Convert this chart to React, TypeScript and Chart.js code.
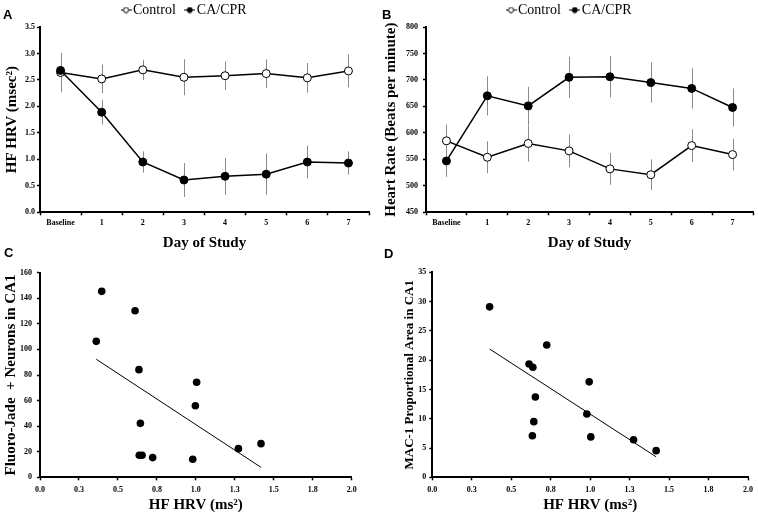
import React, { useEffect, useRef } from 'react';
import { Chart, registerables } from 'chart.js';

Chart.register(...registerables);

// ---------- data ----------
const days = ['Baseline', '1', '2', '3', '4', '5', '6', '7'];

const hrvControl = [2.64, 2.52, 2.69, 2.55, 2.58, 2.62, 2.54, 2.67];
const hrvControlErr = [0.37, 0.27, 0.19, 0.34, 0.27, 0.27, 0.28, 0.31];
const hrvCA = [2.68, 1.89, 0.95, 0.61, 0.68, 0.72, 0.95, 0.93];
const hrvCAErr = [0.16, 0.23, 0.2, 0.32, 0.35, 0.39, 0.31, 0.22];

const hrControl = [585, 554, 580, 566, 532, 521, 576, 559];
const hrControlErr = [31, 30, 34, 31, 30, 29, 31, 30];
const hrCA = [547, 670, 651, 705, 706, 695, 684, 648];
const hrCAErr = [30, 37, 36, 39, 39, 38, 38, 36];

const yTicksA = ['0.0', '0.5', '1.0', '1.5', '2.0', '2.5', '3.0', '3.5'];
const yTicksB = ['450', '500', '550', '600', '650', '700', '750', '800'];
const yTicksC = ['0', '20', '40', '60', '80', '100', '120', '140', '160'];
const yTicksD = ['0', '5', '10', '15', '20', '25', '30', '35'];
const xTicksScatter = ['0.0', '0.3', '0.5', '0.8', '1.0', '1.3', '1.5', '1.8', '2.0'];

const fjX = [0.396, 0.361, 0.61, 0.635, 0.644, 0.637, 0.655, 0.723, 1.005, 0.997, 0.98, 1.273, 1.418];
const fjY = [145.4, 106.3, 130.3, 84.2, 42.2, 17.2, 17.2, 15.4, 74.3, 56.0, 14.1, 22.4, 26.3];
const fjTrendX = [0.361, 1.418];
const fjTrendY = [92.3, 7.8];

const macX = [0.363, 0.725, 0.613, 0.637, 0.994, 0.653, 0.979, 0.643, 0.634, 1.004, 1.275, 1.418];
const macY = [29.1, 22.6, 19.35, 18.8, 16.3, 13.7, 10.8, 9.5, 7.1, 6.9, 6.4, 4.55];
const macTrendX = [0.363, 1.418];
const macTrendY = [21.9, 3.5];

// ---------- styles ----------
const SERIF = 'Liberation Serif';
Chart.defaults.font.family = SERIF;
Chart.defaults.color = '#000';

const tickFont = { family: SERIF, size: 8, weight: 'bold' as const };
const titleFont = { family: SERIF, size: 15, weight: 'bold' as const };

const errorBarPlugin = {
  id: 'errorBars',
  beforeDatasetsDraw(chart: any) {
    const ctx = chart.ctx;
    const yScale = chart.scales.y;
    chart.data.datasets.forEach((ds: any, i: number) => {
      const errs: number[] | undefined = ds.errors;
      if (!errs) return;
      const meta = chart.getDatasetMeta(i);
      ctx.save();
      ctx.strokeStyle = '#8a8a8a';
      ctx.lineWidth = 1;
      meta.data.forEach((pt: any, j: number) => {
        const v = ds.data[j];
        const e = errs[j];
        const x = Math.round(pt.x) + 0.5;
        ctx.beginPath();
        ctx.moveTo(x, yScale.getPixelForValue(v + e));
        ctx.lineTo(x, yScale.getPixelForValue(v - e));
        ctx.stroke();
      });
      ctx.restore();
    });
  },
};

function makeMarker(filled: boolean) {
  const c = document.createElement('canvas');
  c.width = 11;
  c.height = 7;
  const g = c.getContext('2d')!;
  g.strokeStyle = '#000';
  g.lineWidth = 1;
  g.beginPath();
  g.moveTo(0, 3.5);
  g.lineTo(11, 3.5);
  g.stroke();
  g.beginPath();
  g.arc(5.5, 3.5, 2.6, 0, Math.PI * 2);
  g.fillStyle = filled ? '#000' : '#fff';
  g.fill();
  g.stroke();
  return c;
}

function axisBase() {
  return {
    border: { display: true, color: '#000', width: 2 },
    grid: {
      display: true,
      drawOnChartArea: false,
      drawTicks: true,
      tickLength: 3,
      tickColor: '#000',
      tickWidth: 1.5,
      color: '#000',
    },
  };
}

type Pad = { top: number; left: number; right: number; bottom: number };

function lineConfig(o: {
  control: number[];
  controlErr: number[];
  ca: number[];
  caErr: number[];
  yMin: number;
  yMax: number;
  yStep: number;
  yLabels: string[];
  yTitle: string;
  pad: Pad;
  yWidth: number;
  yTitlePad: number;
  yTickPad: number;
  xHeight: number;
  xTickPad: number;
}): any {
  const markers = [makeMarker(false), makeMarker(true)];
  return {
    type: 'line',
    data: {
      labels: days,
      datasets: [
        {
          label: 'CA/CPR',
          data: o.ca,
          errors: o.caErr,
          borderColor: '#000',
          borderWidth: 1.5,
          pointRadius: 4,
          pointBackgroundColor: '#000',
          pointBorderColor: '#000',
          pointBorderWidth: 1,
          tension: 0,
        },
        {
          label: 'Control',
          data: o.control,
          errors: o.controlErr,
          borderColor: '#000',
          borderWidth: 1.5,
          pointRadius: 4,
          pointBackgroundColor: '#fff',
          pointBorderColor: '#000',
          pointBorderWidth: 1,
          tension: 0,
        },
      ],
    },
    plugins: [errorBarPlugin],
    options: {
      responsive: false,
      animation: false,
      devicePixelRatio: 1,
      layout: { padding: o.pad },
      plugins: {
        tooltip: { enabled: false },
        legend: {
          display: true,
          position: 'top',
          align: 'center',
          labels: {
            font: { family: SERIF, size: 14 },
            color: '#000',
            padding: 14,
            usePointStyle: true,
            pointStyleWidth: 0.01,
            generateLabels: (chart: any) => {
              const ds = chart.data.datasets;
              return [
                { text: ds[1].label, pointStyle: markers[0], fillStyle: '#fff', strokeStyle: '#000', lineWidth: 1, hidden: false, datasetIndex: 1, fontColor: '#000' },
                { text: ds[0].label, pointStyle: markers[1], fillStyle: '#000', strokeStyle: '#000', lineWidth: 1, hidden: false, datasetIndex: 0, fontColor: '#000' },
              ];
            },
          },
        },
      },
      scales: {
        x: {
          type: 'category',
          offset: true,
          ...axisBase(),
          grid: { ...axisBase().grid, offset: true },
          ticks: { font: tickFont, color: '#000', padding: o.xTickPad, maxRotation: 0, autoSkip: false },
          title: { display: true, text: 'Day of Study', font: titleFont, color: '#000', padding: { top: 0, bottom: 0 } },
          afterFit: (s: any) => {
            s.height = o.xHeight;
          },
        },
        y: {
          type: 'linear',
          min: o.yMin,
          max: o.yMax,
          ...axisBase(),
          ticks: {
            stepSize: o.yStep,
            font: tickFont,
            color: '#000',
            padding: o.yTickPad,
            callback: (v: number, i: number) => o.yLabels[i] ?? String(v),
          },
          title: { display: true, text: o.yTitle, font: titleFont, color: '#000', padding: { top: o.yTitlePad, bottom: 0 } },
          afterFit: (s: any) => {
            s.width = o.yWidth;
          },
        },
      },
    },
  };
}

function scatterConfig(o: {
  xs: number[];
  ys: number[];
  tx: number[];
  ty: number[];
  yMax: number;
  yStep: number;
  yLabels: string[];
  yTitle: string;
  yTitleSize: number;
  pad: Pad;
  yWidth: number;
  yTitlePad: number;
  yTickPad: number;
  xHeight: number;
  xTickPad: number;
}): any {
  return {
    type: 'scatter',
    data: {
      datasets: [
        {
          label: 'points',
          data: o.xs.map((x, i) => ({ x, y: o.ys[i] })),
          pointRadius: 3.8,
          backgroundColor: '#000',
          borderColor: '#000',
          borderWidth: 0,
        },
        {
          label: 'trend',
          data: o.tx.map((x, i) => ({ x, y: o.ty[i] })),
          showLine: true,
          pointRadius: 0,
          borderColor: '#000',
          borderWidth: 1,
        },
      ],
    },
    options: {
      responsive: false,
      animation: false,
      devicePixelRatio: 1,
      layout: { padding: o.pad },
      plugins: { tooltip: { enabled: false }, legend: { display: false } },
      scales: {
        x: {
          type: 'linear',
          min: 0,
          max: 2,
          ...axisBase(),
          ticks: {
            stepSize: 0.25,
            font: tickFont,
            color: '#000',
            padding: o.xTickPad,
            maxRotation: 0,
            autoSkip: false,
            callback: (v: number, i: number) => xTicksScatter[i] ?? String(v),
          },
          title: { display: true, text: 'HF HRV (ms²)', font: titleFont, color: '#000', padding: { top: 0, bottom: 0 } },
          afterFit: (s: any) => {
            s.height = o.xHeight;
          },
        },
        y: {
          type: 'linear',
          min: 0,
          max: o.yMax,
          ...axisBase(),
          ticks: {
            stepSize: o.yStep,
            font: tickFont,
            color: '#000',
            padding: o.yTickPad,
            callback: (v: number, i: number) => o.yLabels[i] ?? String(v),
          },
          title: {
            display: true,
            text: o.yTitle,
            font: { family: SERIF, size: o.yTitleSize, weight: 'bold' },
            color: '#000',
            padding: { top: o.yTitlePad, bottom: 0 },
          },
          afterFit: (s: any) => {
            s.width = o.yWidth;
          },
        },
      },
    },
  };
}

function Panel(props: { left: number; top: number; width: number; height: number; build: () => any }) {
  const ref = useRef<HTMLCanvasElement>(null);
  useEffect(() => {
    const chart = new Chart(ref.current!, props.build());
    return () => chart.destroy();
  }, []);
  return (
    <div style={{ position: 'absolute', left: props.left, top: props.top, width: props.width, height: props.height }}>
      <canvas ref={ref} width={props.width} height={props.height} style={{ display: 'block', width: props.width, height: props.height }} />
    </div>
  );
}

const letterStyle = (left: number, top: number): React.CSSProperties => ({
  position: 'absolute',
  left,
  top,
  fontFamily: 'Liberation Sans, Arial, sans-serif',
  fontWeight: 'bold',
  fontSize: 13,
  lineHeight: '13px',
  color: '#000',
});

export default function App() {
  return (
    <div style={{ position: 'absolute', left: 0, top: 0, width: 758, height: 517, background: '#fff', overflow: 'hidden' }}>
      <Panel
        left={0}
        top={0}
        width={379}
        height={256}
        build={() =>
          lineConfig({
            control: hrvControl,
            controlErr: hrvControlErr,
            ca: hrvCA,
            caErr: hrvCAErr,
            yMin: 0,
            yMax: 3.5,
            yStep: 0.5,
            yLabels: yTicksA,
            yTitle: 'HF HRV (msec²)',
            pad: { top: -11, left: 3.6, right: 10, bottom: 4 },
            yWidth: 36.4,
            yTitlePad: -0.6,
            yTickPad: 2,
            xHeight: 39.7,
            xTickPad: 3,
          })
        }
      />
      <Panel
        left={379}
        top={0}
        width={379}
        height={256}
        build={() =>
          lineConfig({
            control: hrControl,
            controlErr: hrControlErr,
            ca: hrCA,
            caErr: hrCAErr,
            yMin: 450,
            yMax: 800,
            yStep: 50,
            yLabels: yTicksB,
            yTitle: 'Heart Rate (Beats per minute)',
            pad: { top: -11, left: 8.1, right: 2.5, bottom: 4 },
            yWidth: 38.9,
            yTitlePad: -4.6,
            yTickPad: 5,
            xHeight: 39.7,
            xTickPad: 3,
          })
        }
      />
      <Panel
        left={0}
        top={256}
        width={379}
        height={261}
        build={() =>
          scatterConfig({
            xs: fjX,
            ys: fjY,
            tx: fjTrendX,
            ty: fjTrendY,
            yMax: 160,
            yStep: 20,
            yLabels: yTicksC,
            yTitle: 'Fluoro-Jade  + Neurons in CA1',
            yTitleSize: 15,
            pad: { top: 16.7, left: 2, right: 27.3, bottom: 3 },
            yWidth: 38,
            yTitlePad: 0,
            yTickPad: 5,
            xHeight: 36.7,
            xTickPad: 5,
          })
        }
      />
      <Panel
        left={379}
        top={256}
        width={379}
        height={261}
        build={() =>
          scatterConfig({
            xs: macX,
            ys: macY,
            tx: macTrendX,
            ty: macTrendY,
            yMax: 35,
            yStep: 5,
            yLabels: yTicksD,
            yTitle: 'MAC-1 Proportional Area in CA1',
            yTitleSize: 13,
            pad: { top: 16.3, left: 2, right: 8.3, bottom: 3 },
            yWidth: 51.3,
            yTitlePad: 20.7,
            yTickPad: 3,
            xHeight: 36.7,
            xTickPad: 5,
          })
        }
      />
      <div style={letterStyle(3, 8)}>A</div>
      <div style={letterStyle(382, 8)}>B</div>
      <div style={letterStyle(4, 246)}>C</div>
      <div style={letterStyle(384, 247)}>D</div>
    </div>
  );
}
